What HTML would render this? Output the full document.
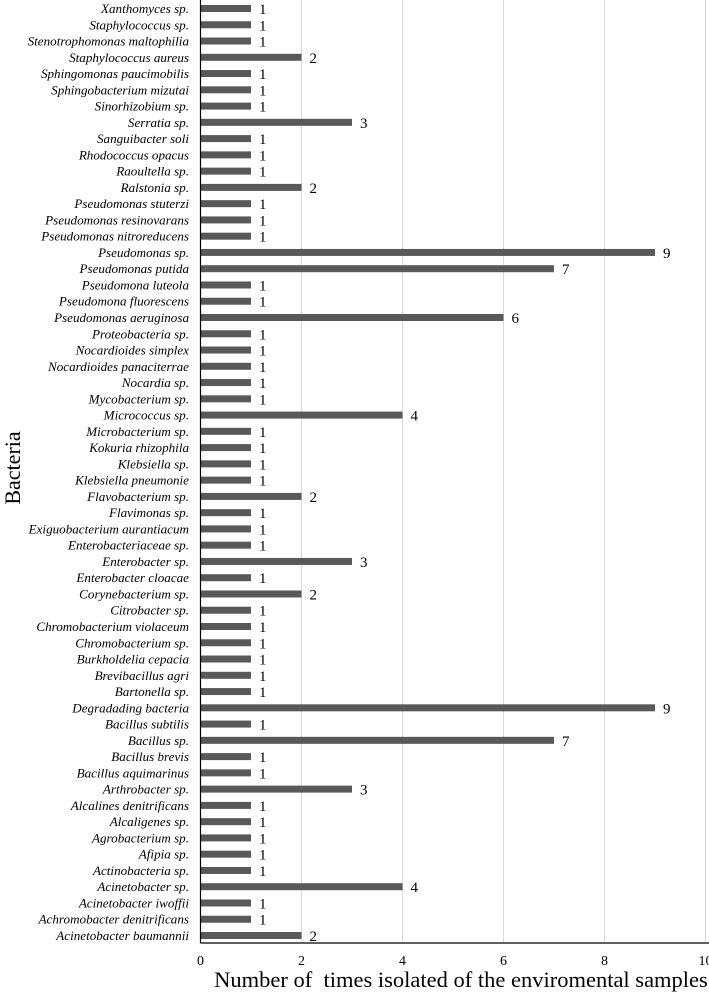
<!DOCTYPE html>
<html><head><meta charset="utf-8"><style>
body{margin:0;background:#fff}
svg{display:block}
</style></head><body>
<svg id="chart" width="709" height="993" xmlns="http://www.w3.org/2000/svg"></svg>
<script>
const categories=["Xanthomyces sp.","Staphylococcus sp.","Stenotrophomonas maltophilia","Staphylococcus aureus","Sphingomonas paucimobilis","Sphingobacterium mizutai","Sinorhizobium sp.","Serratia sp.","Sanguibacter soli","Rhodococcus opacus","Raoultella sp.","Ralstonia sp.","Pseudomonas stuterzi","Pseudomonas resinovarans","Pseudomonas nitroreducens","Pseudomonas sp.","Pseudomonas putida","Pseudomona luteola","Pseudomona fluorescens","Pseudomonas aeruginosa","Proteobacteria sp.","Nocardioides simplex","Nocardioides panaciterrae","Nocardia sp.","Mycobacterium sp.","Micrococcus sp.","Microbacterium sp.","Kokuria rhizophila","Klebsiella sp.","Klebsiella pneumonie","Flavobacterium sp.","Flavimonas sp.","Exiguobacterium aurantiacum","Enterobacteriaceae sp.","Enterobacter sp.","Enterobacter cloacae","Corynebacterium sp.","Citrobacter sp.","Chromobacterium violaceum","Chromobacterium sp.","Burkholdelia cepacia","Brevibacillus agri","Bartonella sp.","Degradading bacteria","Bacillus subtilis","Bacillus sp.","Bacillus brevis","Bacillus aquimarinus","Arthrobacter sp.","Alcalines denitrificans","Alcaligenes sp.","Agrobacterium sp.","Afipia sp.","Actinobacteria sp.","Acinetobacter sp.","Acinetobacter iwoffii","Achromobacter denitrificans","Acinetobacter baumannii"];
const values=[1,1,1,2,1,1,1,3,1,1,1,2,1,1,1,9,7,1,1,6,1,1,1,1,1,4,1,1,1,1,2,1,1,1,3,1,2,1,1,1,1,1,1,9,1,7,1,1,3,1,1,1,1,1,4,1,1,2];
const ticks=[0,2,4,6,8,10];

const NS="http://www.w3.org/2000/svg";
const svg=document.getElementById('chart');
const X0=200.5,PX=50.5,TOP=0,BOT=943,Y0=8.5,STEP=(935.5-8.5)/57;
const xs=v=>X0+v*PX;
const ys=i=>Y0+i*STEP;
function mk(tag,attrs,txt){const e=document.createElementNS(NS,tag);for(const k in attrs)e.setAttribute(k,attrs[k]);if(txt!==undefined)e.textContent=txt;svg.appendChild(e);return e;}
const F='"Liberation Serif", serif';
ticks.forEach(t=>{
  if(t>0){const g=mk('line',{x1:xs(t),x2:xs(t),y1:TOP,y2:BOT,stroke:'#d9d9d9','stroke-width':1});
  
  }
  const l=mk('text',{x:xs(t),y:965,'text-anchor':'middle','font-family':F,'font-size':14,fill:'#000'},String(t));
  
  
});
categories.forEach((c,i)=>{
  const y=ys(i);
  const b=mk('rect',{x:X0,y:y-3.5,width:values[i]*PX,height:7,fill:'#595959'});
  
  
  const v=mk('text',{x:xs(values[i])+8,y:y+5.5,'font-family':F,'font-size':15,fill:'#000'},String(values[i]));
  
  
  const l=mk('text',{x:189,y:y+4.5,'text-anchor':'end','font-family':F,'font-size':13.1,'font-style':'italic',fill:'#000'},c);
  
  
});
const ax=mk('line',{x1:X0,x2:X0,y1:TOP,y2:BOT,stroke:'#000','stroke-width':1.2});


const bx=mk('line',{x1:X0,x2:709,y1:BOT,y2:BOT,stroke:'#000','stroke-width':1.2});


const xt=mk('text',{x:461,y:987,'text-anchor':'middle','font-family':F,'font-size':22.5,fill:'#000',style:'white-space:pre'},'Number of  times isolated of the enviromental samples');


const yt=mk('text',{x:0,y:0,'text-anchor':'middle','font-family':F,'font-size':22,fill:'#000',transform:'translate(20,468) rotate(-90)'},'Bacteria');


</script>
</body></html>
